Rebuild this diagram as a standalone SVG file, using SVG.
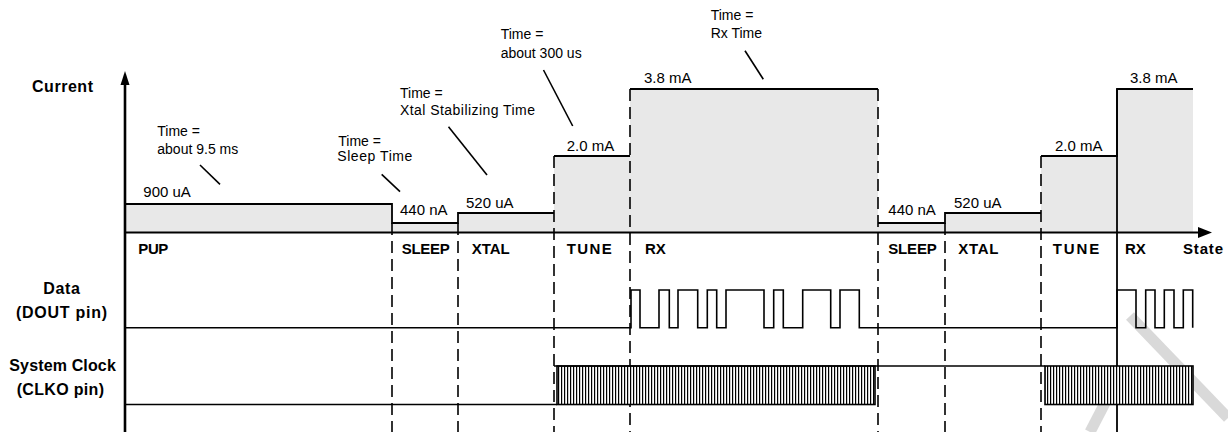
<svg xmlns="http://www.w3.org/2000/svg" width="1228" height="432" viewBox="0 0 1228 432">
<style>
.lbl{font-family:"Liberation Sans",Arial,sans-serif;font-weight:bold;font-size:16px;fill:#000}
.st{font-family:"Liberation Sans",Arial,sans-serif;font-weight:bold;font-size:15px;fill:#000}
.ann{font-family:"Liberation Sans",Arial,sans-serif;font-size:14px;fill:#000}
.cur{font-family:"Liberation Sans",Arial,sans-serif;font-size:15px;fill:#000}
.dash{stroke:#000;stroke-width:1.6;stroke-dasharray:12 6;fill:none}
.solid{stroke:#000;stroke-width:1.8;fill:none}
.sig{stroke:#000;stroke-width:1.6;fill:none}
.ptr{stroke:#000;stroke-width:1.6}
</style>
<defs>
<pattern id="hatch" patternUnits="userSpaceOnUse" x="0" y="0" width="3" height="40">
<rect x="0" y="0" width="3" height="40" fill="#fff"/>
<rect x="0" y="0" width="1.2" height="40" fill="#000"/>
</pattern>
</defs>
<rect width="1228" height="432" fill="#fff"/>
<g id="watermark" stroke="#d9d9d9" stroke-width="11" fill="none">
<line x1="1130" y1="316" x2="1228" y2="418"/>
<line x1="1117" y1="380" x2="1090" y2="432"/>
</g>
<g id="current-area">
<path d="M125,232 V204 H392 V223 H458 V213 H554 V156 H630 V89 H878 V223 H945 V213 H1041 V156 H1117 V89 H1193 V232 Z" fill="#e8e8e8" stroke="none"/>
<path d="M125,204 H392 V223 H458 V213 H554 M554,156 H630 M630,89 H878 M878,223 H945 V213 H1041 M1041,156 H1117 V89 H1193" class="solid"/>
</g>
<g id="connectors">
<path d="M392,223 V432 M458,223 V432 M554,156 V432 M630,89 V432 M878,89 V432 M945,223 V432 M1041,156 V432" class="dash"/>
<line x1="1117" y1="89" x2="1117" y2="432" stroke="#000" stroke-width="1.8"/>
<g id="pointers">
<line class="ptr" x1="200" y1="165" x2="220" y2="184.3"/>
<line class="ptr" x1="381.7" y1="174.3" x2="400" y2="191.7"/>
<line class="ptr" x1="448.5" y1="126.7" x2="487" y2="175"/>
<line class="ptr" x1="543.5" y1="70" x2="572.7" y2="126"/>
<line class="ptr" x1="745" y1="50.7" x2="763.3" y2="79.3"/>
</g>
</g>
<g id="axes">
<line x1="125" y1="82" x2="125" y2="432" stroke="#000" stroke-width="2.6"/>
<polygon points="125,71 120.5,85 129.5,85" fill="#000"/>
<line x1="125" y1="232.5" x2="1200" y2="232.5" stroke="#000" stroke-width="2.2"/>
<polygon points="1212,232.5 1198,227 1198,238" fill="#000"/>
</g>
<g id="data-signal">
<path class="sig" d="M125,327.7 H631 V290 H640 V327.7 H659 V290 H669.3 V327.7 H678 V290 H697.7 V327.7 H707.3 V290 H716.7 V327.7 H726 V290 H764 V327.7 H773.7 V290 H783.3 V327.7 H802.7 V290 H830.7 V327.7 H840 V290 H859.3 V327.7 H1117 V290 H1136 V327.7 H1145.7 V290 H1155 V327.7 H1164.3 V290 H1174 V327.7 H1183.3 V290 H1192.7 V327.7"/>
</g>
<g id="clock-signal">
<path class="sig" d="M125,404.5 H557"/>
<rect x="557" y="366" width="318" height="38.5" fill="url(#hatch)" stroke="#000" stroke-width="1.6"/>
<path class="sig" d="M554,366 H1045"/>
<rect x="1045" y="366" width="148" height="38.5" fill="url(#hatch)" stroke="#000" stroke-width="1.6"/>
</g>
<g id="row-labels">
<text class="lbl" x="32" y="91.5" textLength="61">Current</text>
<text class="lbl" x="43.3" y="294" textLength="36.7">Data</text>
<text class="lbl" x="16" y="317.5" textLength="91">(DOUT pin)</text>
<text class="lbl" x="9.3" y="370.5" textLength="106.5">System Clock</text>
<text class="lbl" x="16.7" y="394.5" textLength="87.3">(CLKO  pin)</text>
</g>
<g id="state-labels">
<text class="st" x="138.3" y="253.5" textLength="30">PUP</text>
<text class="st" x="401.7" y="253.5" textLength="48">SLEEP</text>
<text class="st" x="471.7" y="253.5" textLength="38">XTAL</text>
<text class="st" x="566.7" y="253.5" textLength="45">TUNE</text>
<text class="st" x="645" y="253.5">RX</text>
<text class="st" x="888.3" y="253.5" textLength="48.4">SLEEP</text>
<text class="st" x="958.3" y="253.5" textLength="40">XTAL</text>
<text class="st" x="1052.7" y="253.5" textLength="46.6">TUNE</text>
<text class="st" x="1125" y="253.5">RX</text>
<text class="st" x="1183" y="253.5" textLength="40">State</text>
</g>
<g id="annotations">
<text class="ann" x="157.3" y="135.7">Time =</text>
<text class="ann" x="157.3" y="154">about 9.5 ms</text>
<text class="ann" x="338.3" y="146">Time =</text>
<text class="ann" x="337.3" y="161" textLength="75">Sleep Time</text>
<text class="ann" x="400" y="98.3">Time =</text>
<text class="ann" x="400" y="115" textLength="135">Xtal Stabilizing Time</text>
<text class="ann" x="500.7" y="39.3">Time =</text>
<text class="ann" x="500.7" y="58">about 300 us</text>
<text class="ann" x="710.7" y="20">Time =</text>
<text class="ann" x="710.7" y="37.7">Rx Time</text>
</g>
<g id="current-labels">
<text class="cur" x="143.3" y="196.7">900 uA</text>
<text class="cur" x="400" y="215">440 nA</text>
<text class="cur" x="466" y="208.3">520 uA</text>
<text class="cur" x="566.7" y="150.7">2.0 mA</text>
<text class="cur" x="644" y="83.3">3.8 mA</text>
<text class="cur" x="888.3" y="215">440 nA</text>
<text class="cur" x="954" y="208.3">520 uA</text>
<text class="cur" x="1055" y="150.7">2.0 mA</text>
<text class="cur" x="1130" y="82.7">3.8 mA</text>
</g>
</svg>
